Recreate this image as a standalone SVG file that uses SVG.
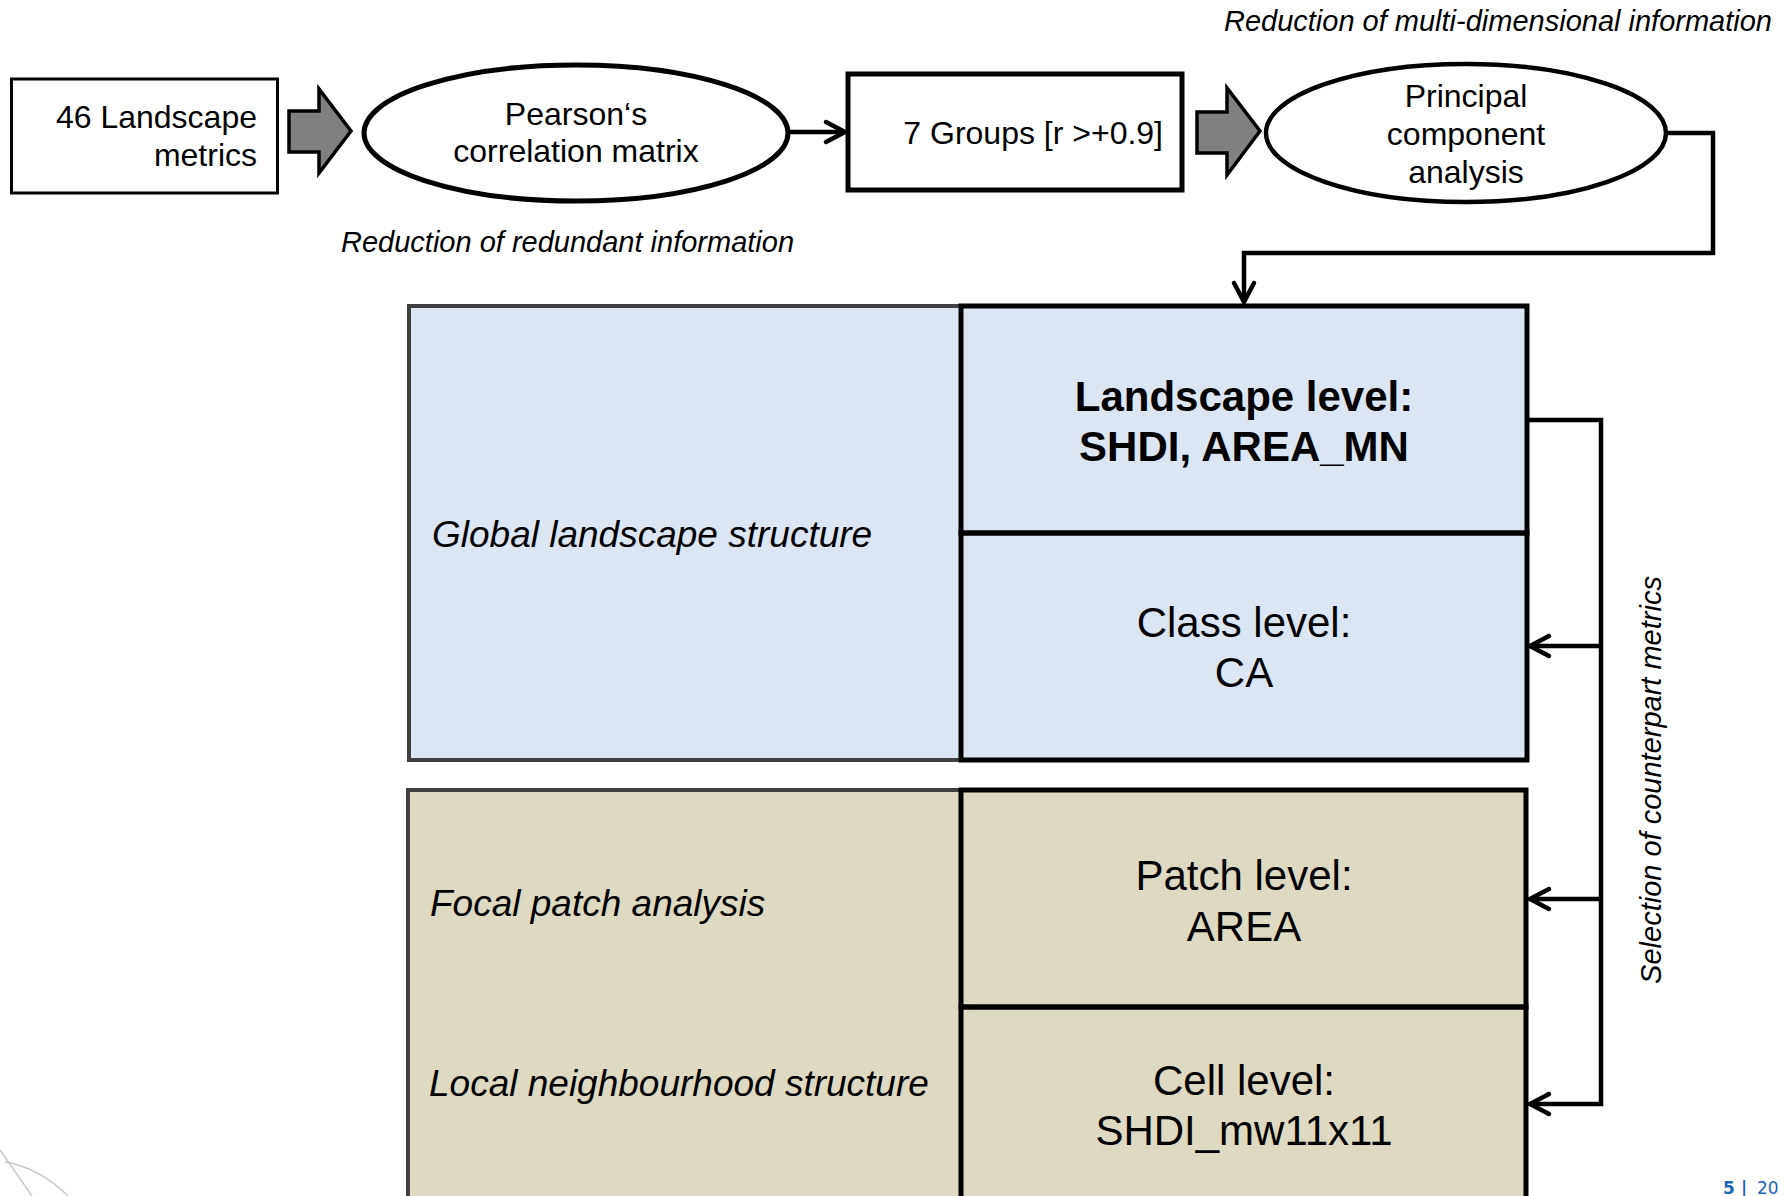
<svg xmlns="http://www.w3.org/2000/svg" width="1791" height="1196" viewBox="0 0 1791 1196">
<style>
  text { font-family: "Liberation Sans", Arial, sans-serif; fill: #000; }
  .node { font-size: 32px; }
  .ann { font-size: 29px; font-style: italic; }
  .side { font-size: 37px; font-style: italic; }
  .cell { font-size: 42px; text-anchor: middle; }
  .bold { font-weight: bold; }
  .conn { fill: none; stroke: #000; stroke-width: 4.5; }
  .blk { fill: #808080; stroke: #000; stroke-width: 3.5; stroke-linejoin: miter; }
  .panel { stroke: #404040; stroke-width: 4; }
  .cellbox { fill: none; stroke: #000; stroke-width: 5; }
  .blue { fill: #DCE6F2; }
  .tan { fill: #DDD9C3; }
  .pg { font-family: "DejaVu Sans", Verdana, sans-serif; font-size: 17px; fill: #1F64B4; }
</style>
<defs>
  <marker id="open" markerUnits="userSpaceOnUse" markerWidth="34" markerHeight="34" viewBox="-28 -17 34 34" refX="0" refY="0" orient="auto">
    <path d="M-19,-10 L0,0 L-19,10" fill="none" stroke="#000" stroke-width="4.5" stroke-linecap="round"/>
  </marker>
</defs>
<rect width="1791" height="1196" fill="#fff"/>

<!-- faint logo fragment -->
<g id="logo" fill="none" stroke="#c8c8c8" stroke-width="1.5">
  <path d="M0,1150 L32,1196"/>
  <path d="M5,1162 Q40,1168 68,1196"/>
</g>

<text class="ann" x="1772" y="31" text-anchor="end">Reduction of multi-dimensional information</text>
<text class="ann" x="341" y="252">Reduction of redundant information</text>

<g id="metrics">
  <rect x="11.5" y="79" width="266" height="114" fill="#fff" stroke="#000" stroke-width="3"/>
  <text class="node" x="257" y="128" text-anchor="end">46 Landscape</text>
  <text class="node" x="257" y="166" text-anchor="end">metrics</text>
</g>

<g id="pearson">
  <ellipse cx="576" cy="133" rx="212" ry="68" fill="#fff" stroke="#000" stroke-width="5"/>
  <text class="node" x="576" y="125" text-anchor="middle">Pearson‘s</text>
  <text class="node" x="576" y="162" text-anchor="middle">correlation matrix</text>
</g>

<g id="groups">
  <rect x="848" y="74" width="334" height="116" fill="#fff" stroke="#000" stroke-width="5"/>
  <text class="node" x="1163" y="144" text-anchor="end">7 Groups [r &gt;+0.9]</text>
</g>

<g id="pca">
  <ellipse cx="1466" cy="133" rx="200" ry="69" fill="#fff" stroke="#000" stroke-width="4.5"/>
  <text class="node" x="1466" y="107" text-anchor="middle">Principal</text>
  <text class="node" x="1466" y="145" text-anchor="middle">component</text>
  <text class="node" x="1466" y="183" text-anchor="middle">analysis</text>
</g>

<g id="global">
  <rect class="panel blue" x="409" y="306" width="1118" height="454"/>
  <text class="side" x="432" y="547">Global landscape structure</text>
</g>
<g id="landscape-level">
  <rect class="cellbox" x="961" y="306" width="566" height="227"/>
  <text class="cell bold" x="1244" y="411">Landscape level:</text>
  <text class="cell bold" x="1244" y="461">SHDI, AREA_MN</text>
</g>
<g id="class-level">
  <rect class="cellbox" x="961" y="533" width="566" height="227"/>
  <text class="cell" x="1244" y="637">Class level:</text>
  <text class="cell" x="1244" y="687">CA</text>
</g>

<g id="local">
  <rect class="panel tan" x="408" y="790" width="1118" height="460"/>
  <text class="side" x="430" y="916">Focal patch analysis</text>
  <text class="side" x="429" y="1096">Local neighbourhood structure</text>
</g>
<g id="patch-level">
  <rect class="cellbox" x="961" y="790" width="565" height="217"/>
  <text class="cell" x="1244" y="890">Patch level:</text>
  <text class="cell" x="1244" y="941">AREA</text>
</g>
<g id="cell-level">
  <rect class="cellbox" x="961" y="1007" width="565" height="250"/>
  <text class="cell" x="1244" y="1095">Cell level:</text>
  <text class="cell" x="1244" y="1145">SHDI_mw11x11</text>
</g>

<g id="connectors">
  <polygon class="blk" points="289,111 319,111 319,89 351,131 319,173 319,152 289,152"/>
  <polygon class="blk" points="1197,112 1227,112 1227,88 1260,131 1227,175 1227,153 1197,153"/>
  <path class="conn" d="M789,132 H845" marker-end="url(#open)"/>
  <path class="conn" d="M1667,133 H1713 V253 H1244 V302" marker-end="url(#open)"/>
  <path class="conn" d="M1529,420 H1601 V1104 H1530" marker-end="url(#open)"/>
  <path class="conn" d="M1601,646 H1530" marker-end="url(#open)"/>
  <path class="conn" d="M1601,899 H1530" marker-end="url(#open)"/>
</g>

<text class="ann" transform="translate(1661,780) rotate(-90)" text-anchor="middle">Selection of counterpart metrics</text>

<g id="page">
  <text class="pg" x="1723" y="1194" font-weight="bold">5</text>
  <text class="pg" x="1741" y="1194" font-weight="bold">|</text>
  <text class="pg" x="1757" y="1194">20</text>
</g>
</svg>
